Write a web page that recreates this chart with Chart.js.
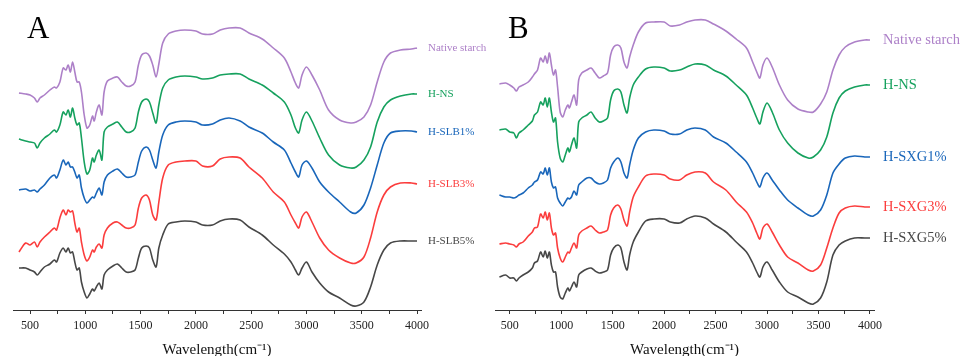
<!DOCTYPE html>
<html>
<head>
<meta charset="utf-8">
<script src="https://cdn.jsdelivr.net/npm/chart.js@4.4.0/dist/chart.umd.min.js"></script>
<style>
  body { margin: 0; background: #fff; }
  #wrap { position: relative; width: 964px; height: 356px; overflow: hidden; }
  #chartA { position: absolute; left: 0; top: 0; }
  #chartB { position: absolute; left: 482px; top: 0; }
</style>
</head>
<body>
<div id="wrap">
  <canvas id="chartA" width="490" height="359"></canvas>
  <canvas id="chartB" width="482" height="359"></canvas>
</div>
<script>
// wavenumber grid (cm-1) shared by every spectrum
const wavenumbers = [400, 460, 500, 540, 565, 590, 630, 680, 720, 740,
  770, 800, 825, 845, 865, 885, 905, 925, 945, 965,
  990, 1015, 1040, 1065, 1080, 1100, 1125, 1150, 1170, 1200,
  1250, 1290, 1330, 1370, 1410, 1450, 1480, 1510, 1550, 1580,
  1610, 1640, 1665, 1700, 1750, 1820, 1900, 2000, 2060, 2150,
  2220, 2300, 2400, 2480, 2600, 2700, 2800, 2860, 2900, 2930,
  2960, 3000, 3050, 3120, 3200, 3300, 3400, 3450, 3520, 3580,
  3640, 3700, 3760, 3850, 3950, 4000];

const xTicks = [500, 750, 1000, 1250, 1500, 1750, 2000, 2250, 2500, 2750, 3000, 3250, 3500, 3750, 4000];

// Panel A (stacked transmittance, arbitrary units)
const namesA = ['Native starch', 'H-NS', 'H-SLB1%', 'H-SLB3%', 'H-SLB5%'];
const nativeA = [217,216,215,212,208,212,215,220,223,222,
  228,242,240,245,238,248,238,228,228,218,
  195,182,185,194,189,198,205,195,218,229,
  232,233,228,224,224,228,245,255,257,254,
  245,233,246,267,276,279,280,279,276,276,
  280,282,282,277,271,262,252,238,227,222,
  235,243,235,220,200,190,187,188,193,205,
  228,248,257,260,261,262];
const hnsA = [171,169,168,167,162,167,172,176,180,178,
  185,198,195,200,193,202,192,185,187,172,
  148,136,140,152,148,155,160,150,178,183,
  186,188,183,178,178,182,198,208,211,208,
  197,187,205,222,230,233,234,233,231,232,
  235,236,236,231,225,217,208,195,182,177,
  190,198,189,172,155,145,142,143,150,163,
  188,203,210,214,216,216];
const slb1 = [120,121,119,120,118,121,125,132,135,132,
  140,150,145,148,143,143,138,132,135,122,
  112,107,110,113,112,117,122,115,128,135,
  139,141,137,133,133,135,148,159,163,160,
  150,142,158,175,185,188,189,188,185,186,
  190,192,189,183,177,168,160,147,138,133,
  145,149,142,128,118,108,98,97,105,122,
  145,167,177,179,179,178];
const slb3 = [58,67,65,68,63,68,73,78,82,80,
  92,100,95,100,98,99,87,78,82,68,
  55,49,53,60,58,63,66,62,75,82,
  87,88,85,82,82,85,102,112,115,110,
  95,90,108,132,145,148,149,149,144,144,
  151,153,152,143,132,118,108,95,87,82,
  93,98,88,72,60,52,47,47,53,72,
  98,115,123,127,127,126];
const slb5 = [42,42,40,38,35,38,43,46,50,48,
  57,62,58,62,57,58,48,40,42,28,
  18,12,16,21,19,23,27,21,35,40,
  44,46,42,38,38,40,52,62,64,62,
  50,43,62,75,86,88,89,88,85,85,
  89,91,90,83,75,65,56,48,40,35,
  42,48,38,27,18,12,5,4,8,23,
  45,60,67,69,69,69];

// Panel B
const namesB = ['Native starch', 'H-NS', 'H-SXG1%', 'H-SXG3%', 'H-SXG5%'];
const nativeB = [226,227,225,222,219,223,225,228,233,236,
  240,252,248,254,247,257,245,235,240,223,
  198,193,200,205,202,208,215,205,230,237,
  240,242,237,232,234,237,255,263,265,262,
  248,242,253,265,278,287,288,288,284,285,
  288,290,290,286,279,271,262,248,238,232,
  245,252,243,225,210,201,198,198,206,218,
  240,255,263,268,270,270];
const hnsB = [180,181,178,177,172,177,180,185,189,195,
  198,208,205,212,203,212,198,188,192,168,
  152,148,155,162,158,165,172,162,188,192,
  195,198,192,188,189,192,210,219,221,218,
  205,197,212,225,233,241,243,242,239,240,
  243,246,245,240,234,225,215,202,192,186,
  198,207,198,180,167,157,152,153,160,173,
  197,212,219,223,225,225];
const sxg1 = [115,113,113,112,113,115,117,122,125,128,
  130,138,136,142,135,142,128,122,123,112,
  107,104,108,112,111,113,119,115,125,128,
  132,132,128,126,127,130,142,148,152,148,
  137,132,145,160,172,178,180,179,176,176,
  180,182,180,173,167,158,148,137,128,123,
  132,137,130,120,110,102,95,94,100,115,
  137,146,152,154,153,153];
const sxg3 = [66,67,66,65,63,66,68,74,78,82,
  83,96,92,98,90,97,82,75,77,62,
  52,48,53,58,57,62,67,62,75,79,
  82,84,80,77,78,80,95,102,105,101,
  90,84,98,113,123,134,136,135,131,130,
  135,138,137,128,120,108,98,87,77,71,
  82,86,78,65,53,47,40,39,45,62,
  82,97,102,104,103,103];
const sxg5 = [33,35,32,32,29,32,35,38,42,47,
  49,58,53,59,52,58,45,38,38,23,
  13,11,17,22,19,23,28,23,35,38,
  41,42,39,37,38,40,55,62,65,62,
  48,40,55,68,78,89,91,91,88,87,
  91,94,92,86,78,68,58,47,38,33,
  43,48,40,28,18,13,7,6,12,28,
  55,65,69,72,72,72];

const seriesColors = ['#ad80c8', '#16a15e', '#1966ba', '#fb3d3d', '#474747'];
const serif = '"Liberation Serif", "Times New Roman", serif';

// draws the panel letter and the name at the end of each line
const panelText = {
  id: 'panelText',
  afterDraw(chart, args, opts) {
    const ctx = chart.ctx;
    const area = chart.chartArea;
    const yScale = chart.scales.y;
    ctx.save();
    ctx.fillStyle = '#000';
    ctx.font = '31px ' + serif;
    ctx.textBaseline = 'alphabetic';
    ctx.fillText(opts.letter, opts.letterX, 38);
    ctx.font = opts.labelSize + 'px ' + serif;
    ctx.textBaseline = 'middle';
    chart.data.datasets.forEach(ds => {
      const last = ds.data[ds.data.length - 1];
      ctx.fillStyle = ds.borderColor;
      ctx.fillText(ds.label, area.right + opts.gap, yScale.getPixelForValue(last.y));
    });
    ctx.restore();
  }
};

function makePanel(id, letter, letterX, names, series, xmin, xmax, padRight, labelSize, gap) {
  const datasets = series.map((vals, i) => ({
    label: names[i],
    data: wavenumbers.map((w, k) => ({ x: w, y: vals[k] })),
    borderColor: seriesColors[i],
    borderWidth: 1.6,
    pointRadius: 0,
    fill: false,
    tension: 0.3
  }));

  return new Chart(document.getElementById(id), {
    type: 'line',
    data: { datasets: datasets },
    plugins: [panelText],
    options: {
      responsive: false,
      animation: false,
      devicePixelRatio: 1,
      layout: { padding: { left: 13, right: padRight, top: 10, bottom: 0 } },
      plugins: {
        legend: { display: false },
        tooltip: { enabled: false },
        panelText: { letter: letter, letterX: letterX, labelSize: labelSize, gap: gap }
      },
      scales: {
        x: {
          type: 'linear',
          min: xmin,
          max: xmax,
          afterBuildTicks: s => { s.ticks = xTicks.map(v => ({ value: v })); },
          afterFit: s => { s.height = 49; },
          ticks: {
            autoSkip: false,
            maxRotation: 0,
            padding: 5,
            color: '#222',
            font: { family: serif, size: 12 },
            callback: v => (v % 500 === 0 ? String(v) : '')
          },
          grid: { drawOnChartArea: false, tickLength: 4, color: '#333' },
          border: { color: '#333', width: 1 },
          title: {
            display: true,
            text: 'Wavelength(cm\u207B\u00B9)',
            color: '#111',
            font: { family: serif, size: 15 },
            padding: { top: 0, bottom: 0 }
          }
        },
        y: { display: false, min: 0, max: 300 }
      }
    }
  });
}

makePanel('chartA', 'A', 27, namesA, [nativeA, hnsA, slb1, slb3, slb5], 346, 4036, 69, 11, 7);
makePanel('chartB', 'B', 26, namesB, [nativeB, hnsB, sxg1, sxg3, sxg5], 357, 4039, 90, 14.5, 9);
</script>
</body>
</html>
